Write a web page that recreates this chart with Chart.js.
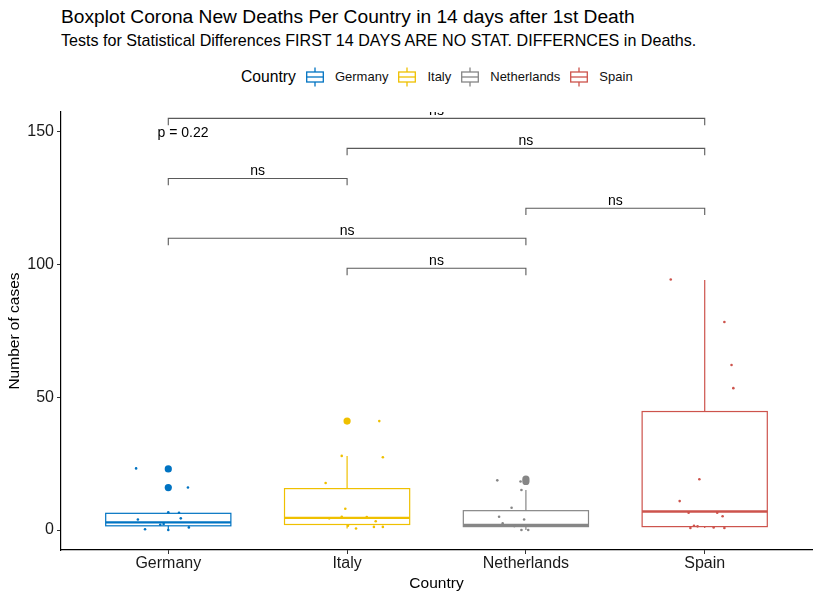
<!DOCTYPE html>
<html>
<head>
<meta charset="utf-8">
<title>Boxplot Corona New Deaths</title>
<script src="https://cdn.jsdelivr.net/npm/chart.js@4.4.1/dist/chart.umd.min.js"></script>
<style>
    body { margin: 0; background: #fff; font-family: "Liberation Sans", Arial, sans-serif; }
    #wrap { position: relative; width: 820px; height: 599px; }
    #chart { position: absolute; left: 0; top: 0; }
    .title { position: absolute; left: 61px; top: 6px; font-size: 19.2px; line-height: 22px; color: #000; white-space: nowrap; }
    .subtitle { position: absolute; left: 61px; top: 31px; font-size: 16.1px; line-height: 19px; color: #000; white-space: nowrap; }
    #legend { position: absolute; left: 241px; top: 66px; height: 21px; display: flex; align-items: center; white-space: nowrap; }
    #legend .head { font-size: 15.7px; margin-right: 10px; }
    #legend .key { width: 18px; height: 20px; margin-right: 11px; }
    #legend .lab { font-size: 13px; margin-right: 10px; color: #111; }
</style>
</head>
<body>
<div id="wrap">
    <div class="title">Boxplot Corona New Deaths Per Country in 14 days after 1st Death</div>
    <div class="subtitle">Tests for Statistical Differences FIRST 14 DAYS ARE NO STAT. DIFFERNCES in Deaths.</div>
    <div id="legend"><span class="head">Country</span></div>
    <canvas id="chart" width="820" height="599"></canvas>
</div>
<script>
// categories and colours
const countries = ['Germany', 'Italy', 'Netherlands', 'Spain'];
const colors = ['#0073C2', '#EFC000', '#868686', '#CD534C'];

// daily new deaths (jittered points)
const germanyDeaths = [23.2, 16, 6.5, 4.4, 4, 6.7, 2, 2.3, 0.3, 0, 1];
const germanyJitter = [-0.18, 0.11, 0.06, 0.07, -0.17, 0, -0.045, -0.026, -0.13, 0, 0.115];
const italyDeaths = [41, 27.9, 27.4, 17.7, 8, 5, 4.9, 4.4, 3.3, 1.6, 1.2, 1.2, 0.6];
const italyJitter = [0.18, -0.03, 0.2, -0.12, -0.01, -0.03, 0.11, -0.1, 0.16, 0.005, 0.15, 0.2, 0.05];
const netherlandsDeaths = [18.7, 18.3, 15.1, 8.4, 5, 4, 2.5, 1.5, 0, 0];
const netherlandsJitter = [-0.16, -0.03, -0.025, -0.08, -0.15, -0.01, -0.13, -0.065, -0.025, 0.013];
const spainDeaths = [94.3, 78.3, 62.1, 53.4, 19.1, 10.9, 5.2, 6.5, 6.5, 1.6, 1.4, 0.8, 1, 0.8];
const spainJitter = [-0.19, 0.11, 0.15, 0.16, -0.03, -0.14, 0.1, 0.07, -0.09, -0.06, -0.04, -0.08, 0.05, 0.11];

// box statistics
const boxQ1 = [1.6, 2.1, 1.3, 1.3];
const boxMedian = [2.9, 4.6, 1.9, 7.0];
const boxQ3 = [6.3, 15.6, 7.3, 44.6];
const whiskerLow = [0, 0.6, 0, 0.8];
const whiskerHigh = [6.7, 27.9, 15.1, 94.1];
const outliers = [[23, 16], [41], [18.3, 19.2], []];

// pairwise comparisons
const pairs = [[0, 3], [1, 3], [0, 1], [2, 3], [0, 2], [1, 2]];
const bracketY = [154.9, 143.6, 132.3, 121.1, 109.8, 98.5];
const bracketLabels = ['ns', 'ns', 'ns', 'ns', 'ns', 'ns'];
const globalLabel = 'p = 0.22';
const globalLabelPos = [-0.06, 149.3];

const yTicks = [0, 50, 100, 150];

const boxWidth = 0.7;
const tipLength = 2.6;

// build the legend keys
const legend = document.getElementById('legend');
countries.forEach((c, i) => {
    legend.insertAdjacentHTML('beforeend',
        `<svg class="key" viewBox="0 0 18 20"><g fill="none" stroke="${colors[i]}" stroke-width="1.3">
        <line x1="9" y1="0.5" x2="9" y2="5"/><rect x="0.7" y="5" width="16.6" height="10"/>
        <line x1="0.7" y1="10" x2="17.3" y2="10"/><line x1="9" y1="15" x2="9" y2="19.5"/></g></svg>` +
        `<span class="lab">${c}</span>`);
});

const allPoints = [
    [germanyDeaths, germanyJitter],
    [italyDeaths, italyJitter],
    [netherlandsDeaths, netherlandsJitter],
    [spainDeaths, spainJitter]
];

const datasets = [];
allPoints.forEach(([vals, jit], i) => {
    datasets.push({
        label: countries[i] + ' outliers',
        data: outliers[i].map(v => ({ x: i, y: v })),
        backgroundColor: colors[i],
        borderWidth: 0,
        pointRadius: 3.6
    });
    datasets.push({
        label: countries[i],
        data: vals.map((v, k) => ({ x: i + jit[k], y: v })),
        backgroundColor: colors[i],
        borderWidth: 0,
        pointRadius: 1.3
    });
});

// boxes and whiskers drawn below the points
const boxPlugin = {
    id: 'boxes',
    beforeDatasetsDraw(chart) {
        const { ctx, scales: { x, y } } = chart;
        ctx.save();
        countries.forEach((c, i) => {
            const left = x.getPixelForValue(i - boxWidth / 2);
            const right = x.getPixelForValue(i + boxWidth / 2);
            const mid = x.getPixelForValue(i);
            const top = y.getPixelForValue(boxQ3[i]);
            const bottom = y.getPixelForValue(boxQ1[i]);
            ctx.strokeStyle = colors[i];
            ctx.lineWidth = 1.2;
            ctx.beginPath();
            ctx.moveTo(mid, top);
            ctx.lineTo(mid, y.getPixelForValue(whiskerHigh[i]));
            ctx.moveTo(mid, bottom);
            ctx.lineTo(mid, y.getPixelForValue(whiskerLow[i]));
            ctx.stroke();
            ctx.strokeRect(left, top, right - left, bottom - top);
            ctx.lineWidth = 2.4;
            ctx.beginPath();
            const m = y.getPixelForValue(boxMedian[i]);
            ctx.moveTo(left, m);
            ctx.lineTo(right, m);
            ctx.stroke();
        });
        ctx.restore();
    }
};

// significance brackets and global p value
const bracketPlugin = {
    id: 'brackets',
    afterDatasetsDraw(chart) {
        const { ctx, chartArea, scales: { x, y } } = chart;
        ctx.save();
        ctx.beginPath();
        ctx.rect(chartArea.left, chartArea.top, chartArea.right - chartArea.left, chartArea.bottom - chartArea.top);
        ctx.clip();
        ctx.strokeStyle = '#5a5a5a';
        ctx.lineWidth = 1.1;
        ctx.fillStyle = '#000';
        ctx.font = '14px "Liberation Sans", Arial, sans-serif';
        ctx.textAlign = 'center';
        ctx.textBaseline = 'alphabetic';
        pairs.forEach(([a, b], k) => {
            const x1 = x.getPixelForValue(a), x2 = x.getPixelForValue(b);
            const yb = y.getPixelForValue(bracketY[k]);
            const yt = y.getPixelForValue(bracketY[k] - tipLength);
            ctx.beginPath();
            ctx.moveTo(x1, yt);
            ctx.lineTo(x1, yb);
            ctx.lineTo(x2, yb);
            ctx.lineTo(x2, yt);
            ctx.stroke();
            ctx.fillText(bracketLabels[k], (x1 + x2) / 2, yb - 3);
        });
        ctx.textAlign = 'left';
        ctx.textBaseline = 'middle';
        ctx.fillText(globalLabel, x.getPixelForValue(globalLabelPos[0]), y.getPixelForValue(globalLabelPos[1]));
        ctx.restore();
    }
};

const tickFont = { family: '"Liberation Sans", Arial, sans-serif', size: 16 };

new Chart(document.getElementById('chart').getContext('2d'), {
    type: 'scatter',
    data: { datasets: datasets },
    plugins: [boxPlugin, bracketPlugin],
    options: {
        responsive: false,
        animation: false,
        layout: { padding: { top: 112, right: 8, left: 0, bottom: 0 } },
        plugins: {
            legend: { display: false },
            tooltip: { enabled: false }
        },
        scales: {
            x: {
                type: 'linear',
                min: -0.6,
                max: 3.6,
                afterBuildTicks: (scale) => { scale.ticks = countries.map((c, i) => ({ value: i })); },
                afterFit: (scale) => { scale.height = 49; },
                ticks: {
                    callback: (v) => countries[v],
                    color: '#1a1a1a',
                    font: tickFont,
                    padding: 0,
                    maxRotation: 0
                },
                grid: { drawOnChartArea: false, drawTicks: true, tickLength: 4, color: '#333' },
                border: { display: true, color: '#000', width: 1.2 },
                title: { display: true, text: 'Country', color: '#000', font: { family: tickFont.family, size: 15.5 }, padding: { top: 0, bottom: 6 } }
            },
            y: {
                min: -7.5,
                max: 157.3,
                afterBuildTicks: (scale) => { scale.ticks = yTicks.map(v => ({ value: v })); },
                afterFit: (scale) => { scale.width = 61; },
                ticks: {
                    color: '#1a1a1a',
                    font: tickFont,
                    padding: 3
                },
                grid: { drawOnChartArea: false, drawTicks: true, tickLength: 4, color: '#333' },
                border: { display: true, color: '#000', width: 1.2 },
                title: { display: true, text: 'Number of cases', color: '#000', font: { family: tickFont.family, size: 15.5 }, padding: { top: 5, bottom: 0 } }
            }
        }
    }
});
</script>
</body>
</html>
